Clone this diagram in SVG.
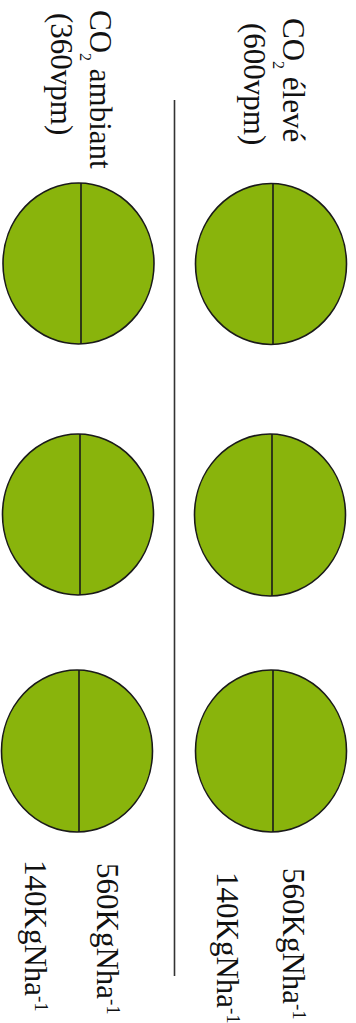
<svg xmlns="http://www.w3.org/2000/svg" width="356" height="1023" viewBox="0 0 356 1023">
<style>
.leaf{fill:#89b40c;stroke:#1a1a1a;stroke-width:1.6}
.mid{stroke:#1a1a1a;stroke-width:1.6}
.lbl{font-family:"Liberation Serif","Times New Roman",serif;font-size:31px;fill:#111}
.sub{font-size:16px}
.sm{font-size:19px}
.sep{stroke:#333;stroke-width:1.6}
</style>
<rect width="356" height="1023" fill="#ffffff"/>
<g id="labels-top">
<text class="lbl" x="283" y="18" transform="rotate(90 283 18)">CO<tspan class="sub" baseline-shift="-10">2</tspan> élevé</text>
<text class="lbl" x="244" y="23" transform="rotate(90 244 23)">(600vpm)</text>
<text class="lbl" x="90" y="10" transform="rotate(90 90 10)">CO<tspan class="sub" baseline-shift="-10">2</tspan> ambiant</text>
<text class="lbl" x="51" y="13" transform="rotate(90 51 13)">(360vpm)</text>
</g>
<g id="labels-bottom">
<text class="lbl" x="283" y="868" transform="rotate(90 283 868)">560KgNha<tspan class="sm" baseline-shift="super">-1</tspan></text>
<text class="lbl" x="217" y="872" transform="rotate(90 217 872)">140KgNha<tspan class="sm" baseline-shift="super">-1</tspan></text>
<text class="lbl" x="97" y="863" transform="rotate(90 97 863)">560KgNha<tspan class="sm" baseline-shift="super">-1</tspan></text>
<text class="lbl" x="25" y="860" transform="rotate(90 25 860)">140KgNha<tspan class="sm" baseline-shift="super">-1</tspan></text>
</g>
<g id="connectors">
<line class="sep" x1="174.5" y1="100" x2="174.5" y2="976"/>
</g>
<g id="leaf-r1">
<ellipse class="leaf" cx="271" cy="264" rx="75.5" ry="80.5"/>
<line class="mid" x1="273" y1="183.5" x2="273" y2="344.5"/>
</g>
<g id="leaf-r2">
<ellipse class="leaf" cx="270" cy="515" rx="75.5" ry="81"/>
<line class="mid" x1="272" y1="434" x2="272" y2="596"/>
</g>
<g id="leaf-r3">
<ellipse class="leaf" cx="271" cy="751" rx="75.5" ry="81"/>
<line class="mid" x1="273" y1="670" x2="273" y2="832"/>
</g>
<g id="leaf-l1">
<ellipse class="leaf" cx="78.5" cy="263.5" rx="75.5" ry="80.5"/>
<line class="mid" x1="81" y1="183" x2="81" y2="344"/>
</g>
<g id="leaf-l2">
<ellipse class="leaf" cx="78" cy="514.5" rx="75.5" ry="80.5"/>
<line class="mid" x1="80" y1="434" x2="80" y2="595"/>
</g>
<g id="leaf-l3">
<ellipse class="leaf" cx="77" cy="751" rx="75.5" ry="81"/>
<line class="mid" x1="79" y1="670" x2="79" y2="832"/>
</g>
</svg>
